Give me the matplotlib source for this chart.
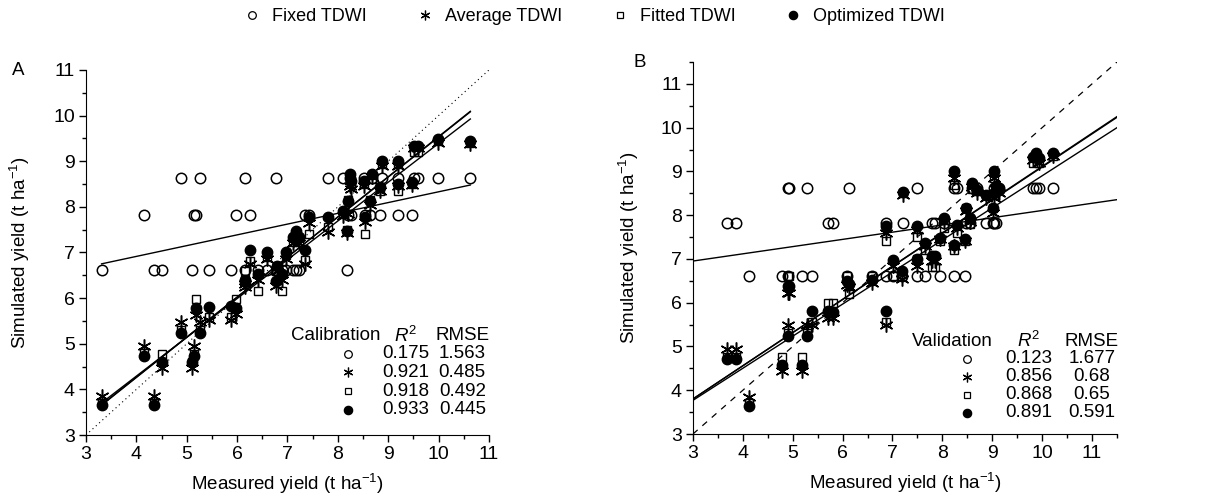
import matplotlib
matplotlib.use('Agg')
import matplotlib.pyplot as plt
from matplotlib.lines import Line2D
from matplotlib.ticker import MultipleLocator
import numpy as np

plt.rcParams['font.family'] = ['Liberation Sans', 'DejaVu Sans']
plt.rcParams['mathtext.fontset'] = 'custom'
plt.rcParams['mathtext.rm'] = 'Liberation Sans'
plt.rcParams['mathtext.it'] = 'Liberation Sans:italic'
plt.rcParams['mathtext.default'] = 'regular'

###################
#### Data ########
###################

series_names = ['Fixed TDWI', 'Average TDWI', 'Fitted TDWI', 'Optimized TDWI']

# Calibration (panel A): measured yield and the four simulated yields (t/ha)
cal_measured = [3.31, 4.15, 4.36, 4.50, 4.89, 5.11, 5.14, 5.19, 5.27, 5.44, 5.87, 5.98, 6.15, 6.16,
                6.26, 6.42, 6.60, 6.77, 6.79, 6.90, 6.98, 7.11, 7.17, 7.22, 7.35, 7.43, 7.81, 8.10,
                8.18, 8.20, 8.25, 8.26, 8.52, 8.53, 8.63, 8.68, 8.84, 8.87, 9.19, 9.19, 9.48, 9.51,
                9.60, 9.99, 10.63]
cal_fixed = [6.62, 7.82, 6.62, 6.62, 8.63, 6.62, 7.82, 7.82, 8.63, 6.62, 6.62, 7.82, 6.62, 8.63,
             7.82, 6.62, 6.62, 8.63, 6.62, 6.62, 6.62, 6.62, 6.62, 6.62, 7.82, 7.82, 8.63, 8.63,
             6.62, 7.82, 8.63, 7.82, 8.63, 7.82, 7.82, 8.63, 7.82, 8.63, 8.63, 7.82, 7.82, 8.63,
             8.63, 8.63, 8.63]
cal_average = [3.85, 4.96, 3.85, 4.46, 5.48, 4.46, 4.96, 5.64, 5.48, 5.53, 5.52, 5.66, 6.25, 6.30,
               6.75, 6.40, 6.85, 6.27, 6.60, 6.40, 6.85, 7.20, 7.35, 7.20, 6.74, 7.64, 7.44, 7.80,
               7.42, 7.85, 8.45, 8.40, 8.45, 7.66, 8.05, 8.65, 8.35, 8.90, 8.90, 8.45, 8.48, 9.30,
               9.30, 9.40, 9.38]
cal_fitted = [3.70, 4.80, 3.70, 4.77, 5.30, 4.60, 4.77, 5.99, 5.30, 5.59, 5.59, 5.99, 6.60, 6.40,
              6.82, 6.16, 6.90, 6.60, 6.70, 6.16, 6.95, 7.22, 7.30, 7.22, 6.83, 7.40, 7.55, 7.85,
              7.50, 8.15, 8.60, 8.50, 8.50, 7.40, 8.15, 8.60, 8.35, 8.95, 8.95, 8.35, 8.50, 9.20,
              9.20, 9.45, 9.40]
cal_optimized = [3.65, 4.73, 3.65, 4.60, 5.23, 4.60, 4.73, 5.79, 5.23, 5.81, 5.82, 5.79, 6.39, 6.38,
                 7.06, 6.53, 7.00, 6.38, 6.70, 6.53, 7.00, 7.33, 7.48, 7.33, 7.06, 7.77, 7.77, 7.92,
                 7.48, 8.13, 8.72, 8.57, 8.57, 7.77, 8.13, 8.72, 8.43, 9.01, 9.01, 8.50, 8.54, 9.34,
                 9.34, 9.49, 9.45]

# Validation (panel B)
val_measured = [3.69, 3.86, 4.12, 4.78, 4.91, 4.91, 4.93, 5.19, 5.28, 5.39, 5.70, 5.80, 6.09, 6.12,
                6.59, 6.86, 6.87, 7.02, 7.19, 7.21, 7.49, 7.49, 7.66, 7.80, 7.86, 7.96, 8.03, 8.23,
                8.23, 8.30, 8.45, 8.47, 8.55, 8.60, 8.70, 8.87, 9.02, 9.04, 9.04, 9.07, 9.14, 9.81,
                9.87, 9.94, 10.21]
val_fixed = [7.82, 7.82, 6.62, 6.62, 8.63, 6.62, 8.63, 6.62, 8.63, 6.62, 7.82, 7.82, 6.62, 8.63,
             6.62, 6.62, 7.82, 6.62, 6.62, 7.82, 8.63, 6.62, 6.62, 7.82, 7.82, 6.62, 7.82, 8.63,
             6.62, 8.63, 6.62, 7.82, 7.82, 8.63, 8.63, 7.82, 7.82, 8.63, 7.82, 7.82, 8.63, 8.63,
             8.63, 8.63, 8.63]
val_average = [4.95, 4.95, 3.85, 4.45, 6.22, 5.48, 6.22, 4.45, 5.48, 5.50, 5.65, 5.65, 6.40, 6.35,
               6.45, 5.48, 7.60, 6.85, 6.55, 8.45, 7.65, 6.85, 7.30, 6.95, 6.95, 7.45, 7.85, 7.30,
               8.85, 7.70, 7.40, 8.10, 7.85, 8.65, 8.50, 8.40, 8.05, 8.85, 8.40, 8.60, 8.50, 9.25,
               9.30, 9.20, 9.35]
val_fitted = [4.75, 4.75, 3.70, 4.77, 6.60, 5.30, 6.60, 4.77, 5.30, 5.57, 5.99, 5.99, 6.60, 6.20,
              6.62, 5.57, 7.40, 6.60, 6.62, 8.50, 7.50, 7.00, 7.20, 6.82, 6.82, 7.40, 7.70, 7.20,
              8.70, 7.60, 7.40, 8.16, 7.80, 8.60, 8.55, 8.45, 8.16, 8.85, 8.45, 8.55, 8.60, 9.20,
              9.30, 9.20, 9.35]
val_optimized = [4.72, 4.72, 3.65, 4.58, 6.38, 5.23, 6.38, 4.58, 5.23, 5.80, 5.80, 5.78, 6.50, 6.42,
                 6.53, 5.80, 7.76, 6.98, 6.72, 8.52, 7.76, 7.00, 7.36, 7.06, 7.06, 7.48, 7.93, 7.33,
                 9.02, 7.78, 7.46, 8.16, 7.93, 8.73, 8.58, 8.47, 8.16, 9.02, 8.50, 8.66, 8.58, 9.34,
                 9.42, 9.30, 9.42]

# regression lines: (slope, intercept) for each series
cal_fits = [(0.236, 5.97), (0.850, 0.89), (0.880, 0.74), (0.877, 0.76)]
val_fits = [(0.165, 6.457), (0.733, 1.57), (0.757, 1.53), (0.759, 1.524)]

cal_r2 = ['0.175', '0.921', '0.918', '0.933']
cal_rmse = ['1.563', '0.485', '0.492', '0.445']
val_r2 = ['0.123', '0.856', '0.868', '0.891']
val_rmse = ['1.677', '0.68', '0.65', '0.591']

###################
#### Styles #######
###################

star = (6, 2, 0)
styles = [dict(marker='o', ms=7.5, mfc='none', mec='black', mew=1.1),
          dict(marker=star, ms=10, mfc='black', mec='black', mew=1.1),
          dict(marker='s', ms=6, mfc='none', mec='black', mew=1.0),
          dict(marker='o', ms=7.5, mfc='black', mec='black', mew=1.0)]
legend_styles = [dict(marker='o', ms=5.5, mfc='none', mec='black', mew=0.9),
                 dict(marker=star, ms=7, mfc='black', mec='black', mew=0.9),
                 dict(marker='s', ms=5, mfc='none', mec='black', mew=0.9),
                 dict(marker='o', ms=6, mfc='black', mec='black', mew=0.9)]
FS_TICK = 14
FS_LABEL = 13.5
FS_TABLE = 13.5


def draw_panel(ax, measured, sims, fits, line_range, diag_range, diag_style, top,
               table_title, r2, rmse, cols, rows_y, head_y, ylab_x):
    for y, st in zip(sims, styles):
        ax.plot(measured, y, linestyle='none', **st, zorder=3)
    xl = np.array(line_range)
    for slope, icpt in fits:
        ax.plot(xl, slope * xl + icpt, color='black', lw=1.0, zorder=2)
    d = np.array(diag_range)
    ax.plot(d, d, color='black', zorder=1, **diag_style)

    ax.set_xlim(3, top)
    ax.set_ylim(3, top)
    ax.xaxis.set_major_locator(MultipleLocator(1))
    ax.yaxis.set_major_locator(MultipleLocator(1))
    ax.xaxis.set_minor_locator(MultipleLocator(0.5))
    ax.yaxis.set_minor_locator(MultipleLocator(0.5))
    ax.tick_params(which='major', direction='out', length=5, width=1, labelsize=FS_TICK, pad=3)
    ax.tick_params(which='minor', direction='out', length=3, width=1)
    ax.spines['top'].set_visible(False)
    ax.spines['right'].set_visible(False)
    ax.set_xlabel('Measured yield (t ha$^{-1}$)', fontsize=FS_LABEL)
    ax.set_ylabel('Simulated yield (t ha$^{-1}$)', fontsize=FS_LABEL)
    ax.xaxis.set_label_coords(0.5, -0.1)
    ax.yaxis.set_label_coords(ylab_x, 0.5)

    # the statistics table in the lower right corner
    c_title, c_mark, c_r2, c_rmse = cols
    ax.text(c_title, head_y, table_title, fontsize=FS_TABLE, ha='center', va='center')
    ax.text(c_r2, head_y, '$\\mathit{R}^2$', fontsize=FS_TABLE, ha='center', va='center')
    ax.text(c_rmse, head_y, 'RMSE', fontsize=FS_TABLE, ha='center', va='center')
    for i in range(4):
        ax.plot([c_mark], [rows_y[i]], linestyle='none', **legend_styles[i])
        ax.text(c_r2, rows_y[i], r2[i], fontsize=FS_TABLE, ha='center', va='center')
        ax.text(c_rmse, rows_y[i], rmse[i], fontsize=FS_TABLE, ha='center', va='center')


fig = plt.figure(figsize=(12.23, 4.98), dpi=100)
ax_a = fig.add_axes([0.0703, 0.1265, 0.3295, 0.733])
ax_b = fig.add_axes([0.5666, 0.1285, 0.3467, 0.747])

draw_panel(ax_a, cal_measured, [cal_fixed, cal_average, cal_fitted, cal_optimized], cal_fits,
           [min(cal_measured), max(cal_measured)], [3, 11], dict(linestyle=(0, (1, 3)), lw=0.8), 11,
           'Calibration', cal_r2, cal_rmse, (7.95, 8.2, 9.35, 10.47),
           [4.78, 4.37, 3.96, 3.55], 5.18, -0.135)
draw_panel(ax_b, val_measured, [val_fixed, val_average, val_fitted, val_optimized], val_fits,
           [3, 11.5], [3, 11.5], dict(linestyle=(0, (5, 5)), lw=0.9), 11.5,
           'Validation', val_r2, val_rmse, (8.2, 8.5, 9.73, 11.0),
           [4.72, 4.31, 3.9, 3.49], 5.12, -0.122)

fig.text(0.01, 0.859, 'A', fontsize=FS_TABLE, va='center')
fig.text(0.523, 0.8755, 'B', fontsize=FS_TABLE, va='center', ha='center')

handles = [Line2D([], [], linestyle='none', **st) for st in legend_styles]
fig.legend(handles, series_names, loc='center', bbox_to_anchor=(0.485, 0.967), ncol=4,
           frameon=False, fontsize=13, handlelength=1.2, handletextpad=0.5, columnspacing=2.6)

fig.savefig('out.png', dpi=100)
